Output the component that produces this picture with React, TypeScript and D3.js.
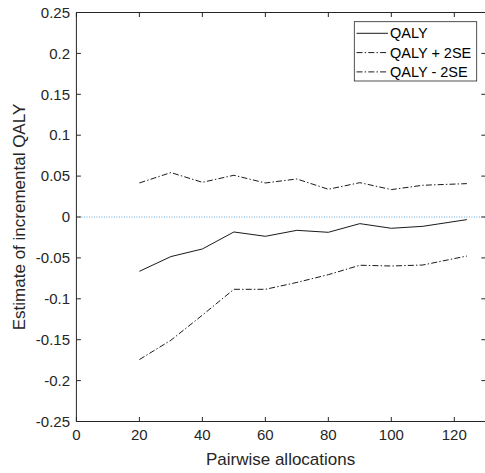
import React from "react";
import * as d3 from "d3";

const allocations = [20, 30, 40, 50, 60, 70, 80, 90, 100, 110, 124];
const qaly = [-0.0664, -0.0484, -0.0391, -0.0183, -0.0236, -0.0163, -0.0187, -0.0081, -0.0138, -0.0114, -0.0032];
const qalyPlus = [0.0416, 0.0543, 0.0424, 0.051, 0.0416, 0.0465, 0.0339, 0.042, 0.0335, 0.0388, 0.0408];
const qalyMinus = [-0.1743, -0.1507, -0.12, -0.0884, -0.0884, -0.080, -0.0705, -0.059, -0.0599, -0.0587, -0.0477];
const xTicks = [0, 20, 40, 60, 80, 100, 120];
const yTicks = [-0.25, -0.2, -0.15, -0.1, -0.05, 0, 0.05, 0.1, 0.15, 0.2, 0.25];
const seriesNames = ["QALY", "QALY + 2SE", "QALY - 2SE"];

const W = 485, H = 473;
const L = 76.4, T = 12.5, R = 485.8, B = 421.5;
const axisColor = "#262626";
const font = "'Liberation Sans', Arial, Helvetica, sans-serif";
const dashDot = "6,2.2,1.4,2.2";

export default function App() {
  const x = d3.scaleLinear().domain([0, 130]).range([L, R]);
  const y = d3.scaleLinear().domain([-0.25, 0.25]).range([B, T]);
  const line = (vals: number[]) =>
    d3.line<number>().x((_, i) => x(allocations[i])).y((v) => y(v))(vals) || "";
  const series = [
    { name: seriesNames[0], vals: qaly, dash: undefined as string | undefined },
    { name: seriesNames[1], vals: qalyPlus, dash: dashDot },
    { name: seriesNames[2], vals: qalyMinus, dash: dashDot },
  ];
  const tl = 4.5;
  const fmt = (v: number) => (v === 0 ? "0" : String(+v.toFixed(2)));
  const lgX = 354.3, lgY = 21.7, lgW = 122.4, lgH = 59.3;
  return (
    <svg width={W} height={H} style={{ position: "absolute", left: 0, top: 0, background: "#fff" }} fontFamily={font}>
      <rect x={0} y={0} width={W} height={H} fill="#fff" />
      {/* zero line */}
      <line x1={x(0)} x2={R} y1={y(0)} y2={y(0)} stroke="#3a8fd0" strokeWidth={0.8} strokeDasharray="1,1.5" />
      {series.map((s) => (
        <path key={s.name} d={line(s.vals)} fill="none" stroke="#000" strokeWidth={0.9} strokeDasharray={s.dash} />
      ))}
      {/* axes box */}
      <g stroke={axisColor} strokeWidth={1} fill="none">
        <line x1={L} x2={L} y1={T} y2={B} />
        <line x1={L} x2={R} y1={B} y2={B} />
        <line x1={L} x2={R} y1={T} y2={T} />
        <line x1={R} x2={R} y1={T} y2={B} />
        {xTicks.map((t) => (
          <g key={"xt" + t}>
            <line x1={x(t)} x2={x(t)} y1={B} y2={B - tl} />
            <line x1={x(t)} x2={x(t)} y1={T} y2={T + tl} />
          </g>
        ))}
        {yTicks.map((t) => (
          <g key={"yt" + t}>
            <line x1={L} x2={L + tl} y1={y(t)} y2={y(t)} />
            <line x1={R} x2={R - tl} y1={y(t)} y2={y(t)} />
          </g>
        ))}
      </g>
      {xTicks.map((t) => (
        <text key={"xl" + t} x={x(t)} y={440} textAnchor="middle" fontSize={15} fill={axisColor}>
          {fmt(t)}
        </text>
      ))}
      {yTicks.map((t) => (
        <text key={"yl" + t} x={70} y={y(t) + 5.2} textAnchor="end" fontSize={15} fill={axisColor}>
          {fmt(t)}
        </text>
      ))}
      <text x={(L + R) / 2 - 0.5} y={465} textAnchor="middle" fontSize={17} fill={axisColor}>
        Pairwise allocations
      </text>
      <text transform={`translate(25,${(T + B) / 2}) rotate(-90)`} textAnchor="middle" fontSize={17} fill={axisColor}>
        Estimate of incremental QALY
      </text>
      {/* legend */}
      <rect x={lgX} y={lgY} width={lgW} height={lgH} fill="#fff" stroke={axisColor} strokeWidth={0.8} />
      {series.map((s, i) => {
        const cy = 33.3 + i * 19.3;
        return (
          <g key={"lg" + s.name}>
            <line x1={356.5} x2={388} y1={cy} y2={cy} stroke="#000" strokeWidth={0.9} strokeDasharray={s.dash} />
            <text x={390} y={cy + 5} fontSize={14.5} fill="#000">
              {s.name}
            </text>
          </g>
        );
      })}
    </svg>
  );
}
